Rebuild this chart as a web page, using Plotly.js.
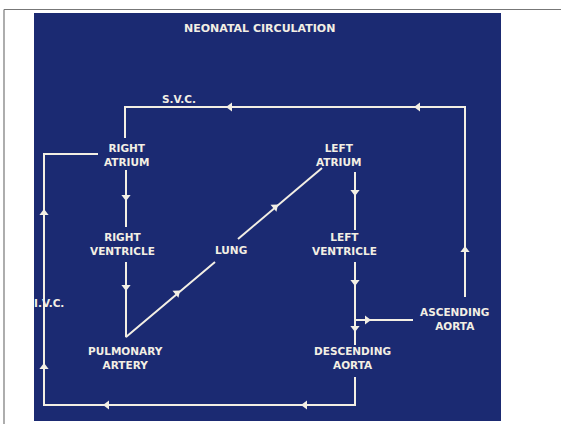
<!DOCTYPE html>
<html><head><meta charset="utf-8">
<script src="https://cdn.plot.ly/plotly-3.0.1.min.js"></script>
<style>html,body{margin:0;padding:0;background:#fff;}#chart{width:561px;height:424px;}</style>
</head><body><div id="chart"></div>
<script>
// Diagram content (pixel-space coordinates of the slide)
const titleText = "NEONATAL CIRCULATION";
const nodeLabels = ["RIGHT<br>ATRIUM","RIGHT<br>VENTRICLE","PULMONARY<br>ARTERY","LUNG","LEFT<br>ATRIUM","LEFT<br>VENTRICLE","ASCENDING<br>AORTA","DESCENDING<br>AORTA","S.V.C.","I.V.C."];
const nodeX = [126,122,125,231,338,344,454,352,179,49];
const nodeY = [155,244,358,250,155,244,319,358,99,303];

// flow paths (null separates segments)
const pathX = [465,465,125,125,null, 98,44,44,355,355,null, 126,126,null, 126,126,215,null, 238,322,null, 355,355,null, 355,355,null, 355,413];
const pathY = [297,107,107,138,null, 154,154,405,405,377,null, 170,227,null, 262,337,262,null, 239,168,null, 172,230,null, 262,345,null, 320,320];

// arrowheads: position and direction (degrees clockwise from up)
const arrowX = [230,418,465,44,44,107,305,126,126,177,275,355,355,355,367];
const arrowY = [107,107,250,213,367,405,405,197,287,293,207,192,282,328,320];
const arrowDir = [270,270,0,0,0,270,270,180,180,50,50,180,180,180,90];

const ink = "#f3efe4";
const traces = [
  {x: pathX, y: pathY, mode: "lines", line: {color: ink, width: 2}, hoverinfo: "skip", showlegend: false},
  {x: arrowX, y: arrowY, mode: "markers", hoverinfo: "skip", showlegend: false,
   marker: {symbol: "triangle-up", size: 8, color: ink, angle: arrowDir, line: {width: 0}}}
];

const fontFam = "DejaVu Sans, Verdana, sans-serif";
const annotations = nodeLabels.map((t, i) => ({
  x: nodeX[i], y: nodeY[i], xref: "x", yref: "y", text: t, showarrow: false,
  font: {family: fontFam, size: 10.5, color: ink, weight: 700},
  align: "center", xanchor: "center", yanchor: "middle"
}));
annotations.push({x: 259, y: 28, xref: "x", yref: "y", text: titleText, showarrow: false,
  font: {family: fontFam, size: 11, color: ink, weight: 700},
  xanchor: "center", yanchor: "middle"});

const layout = {
  width: 561, height: 424,
  margin: {l: 0, r: 0, t: 0, b: 0},
  paper_bgcolor: "#ffffff", plot_bgcolor: "rgba(0,0,0,0)",
  xaxis: {range: [0, 561], visible: false, fixedrange: true},
  yaxis: {range: [424, 0], visible: false, fixedrange: true},
  shapes: [
    {type: "rect", xref: "x", yref: "y", x0: 34, x1: 501, y0: 13, y1: 421, fillcolor: "#1b2a72", line: {width: 0}, layer: "below"},
    {type: "line", xref: "x", yref: "y", x0: 4, x1: 561, y0: 9.5, y1: 9.5, line: {color: "#777", width: 1.2}},
    {type: "line", xref: "x", yref: "y", x0: 4, x1: 4, y0: 9.5, y1: 424, line: {color: "#777", width: 1.2}}
  ],
  annotations: annotations,
  showlegend: false
};
Plotly.newPlot("chart", traces, layout, {displayModeBar: false, staticPlot: true});
</script></body></html>
